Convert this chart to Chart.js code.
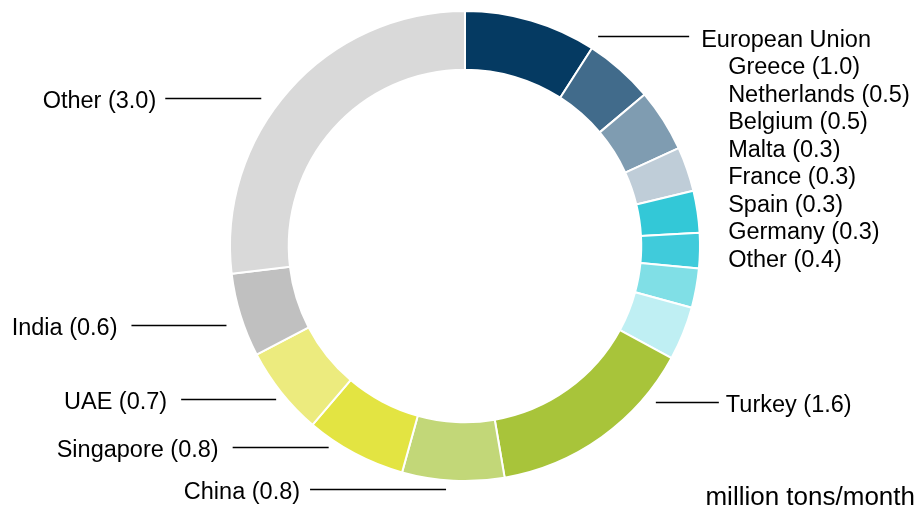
<!DOCTYPE html>
<html>
<head>
<meta charset="utf-8">
<script src="https://cdn.jsdelivr.net/npm/chart.js@4/dist/chart.umd.min.js"></script>
<style>
  html, body { margin: 0; padding: 0; background: #fff; }
  #wrap { width: 921px; height: 510px; position: relative; }
</style>
</head>
<body>
<div id="wrap"><canvas id="myChart" width="921" height="510"></canvas></div>
<script>
"use strict";

// data (million tons/month); slice sizes estimated from the angles
const categories = ['Greece', 'Netherlands', 'Belgium', 'Malta', 'France', 'Spain', 'Germany', 'Other',
                    'Turkey', 'China', 'Singapore', 'UAE', 'India', 'Other'];
const values = [1.01, 0.53, 0.48, 0.34, 0.32, 0.27, 0.30, 0.41, 1.60, 0.78, 0.77, 0.68, 0.64, 2.99];
const euCount = 8;   // first 8 categories belong to the European Union group
const groupTitle = 'European Union';
const unitLabel = 'million tons/month';

const sliceColors = ['#053a62', '#416b8b', '#7f9cb1', '#bfcdd8', '#33c8d7', '#40cbdb', '#80dfe6', '#bfeff3',
                     '#a8c43a', '#c2d778', '#e3e442', '#eceb7e', '#c0c0c0', '#d9d9d9'];

// callout placement (offsets from slice mid point on the outer edge)
const callouts = [
    { index: 8,  side: 'right', dx: 54,  dy: -35, len: 63,  gap: 7 },
    { index: 9,  side: 'left',  dx: -7,  dy: 8,   len: 136, gap: 10 },
    { index: 10, side: 'left',  dx: -26, dy: -6,  len: 96,  gap: 14 },
    { index: 11, side: 'left',  dx: -5,  dy: 7,   len: 95,  gap: 14 },
    { index: 12, side: 'left',  dx: -14, dy: 10,  len: 95,  gap: 14 },
    { index: 13, side: 'left',  dx: -28, dy: 8,   len: 96,  gap: 9 }
];
const groupCallout = { index: 0, dx: 67, dy: 15, len: 91, gap: 12, indent: 27, lineH: 27.5 };

const FONT = '"Liberation Sans", Arial, sans-serif';

function labelText(i) {
    return `${categories[i]} (${values[i].toFixed(1)})`;
}

function midPoint(arc) {
    const a = (arc.startAngle + arc.endAngle) / 2;
    return { x: arc.x + Math.cos(a) * arc.outerRadius, y: arc.y + Math.sin(a) * arc.outerRadius };
}

const calloutPlugin = {
    id: 'callouts',
    afterDatasetsDraw(chart) {
        const ctx = chart.ctx;
        const arcs = chart.getDatasetMeta(0).data;
        ctx.save();
        ctx.strokeStyle = '#000';
        ctx.lineWidth = 1.3;
        ctx.fillStyle = '#000';
        ctx.font = `23.5px ${FONT}`;
        ctx.textBaseline = 'alphabetic';

        callouts.forEach(c => {
            const p = midPoint(arcs[c.index]);
            const y = Math.round(p.y + c.dy) + 0.5;
            if (c.side === 'right') {
                const x0 = p.x + c.dx;
                ctx.beginPath(); ctx.moveTo(x0, y); ctx.lineTo(x0 + c.len, y); ctx.stroke();
                ctx.textAlign = 'left';
                ctx.fillText(labelText(c.index), x0 + c.len + c.gap, y + 9);
            } else {
                const x1 = p.x + c.dx;
                ctx.beginPath(); ctx.moveTo(x1 - c.len, y); ctx.lineTo(x1, y); ctx.stroke();
                ctx.textAlign = 'right';
                ctx.fillText(labelText(c.index), x1 - c.len - c.gap, y + 9);
            }
        });

        // European Union group with its member list
        const g = groupCallout;
        const p = midPoint(arcs[g.index]);
        const gy = Math.round(p.y + g.dy) + 0.5;
        const gx = p.x + g.dx;
        ctx.beginPath(); ctx.moveTo(gx, gy); ctx.lineTo(gx + g.len, gy); ctx.stroke();
        ctx.textAlign = 'left';
        const tx = gx + g.len + g.gap;
        ctx.fillText(groupTitle, tx, gy + 10);
        for (let i = 0; i < euCount; i++) {
            ctx.fillText(labelText(i), tx + g.indent, gy + 10 + g.lineH * (i + 1));
        }

        // unit note
        ctx.font = `26px ${FONT}`;
        ctx.textAlign = 'right';
        ctx.fillText(unitLabel, chart.width - 6, chart.height - 5);
        ctx.restore();
    }
};

var $Chart = document.getElementById('myChart');
var salesChart = new Chart($Chart, {
    type: 'doughnut',
    data: {
        labels: categories,
        datasets: [{
            data: values,
            backgroundColor: sliceColors,
            borderColor: '#ffffff',
            borderWidth: 2,
            hoverOffset: 0
        }]
    },
    options: {
        responsive: false,
        animation: false,
        cutout: '75%',
        layout: { padding: { left: 229, right: 220, top: 10, bottom: 28 } },
        plugins: {
            legend: { display: false },
            tooltip: { enabled: false }
        }
    },
    plugins: [calloutPlugin]
});
</script>
</body>
</html>
